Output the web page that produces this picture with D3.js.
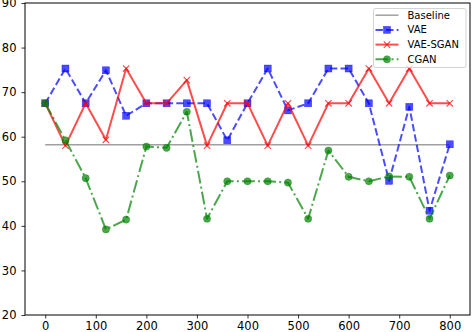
<!DOCTYPE html>
<html>
<head>
<meta charset="utf-8">
<script src="https://cdn.jsdelivr.net/npm/d3@7"></script>
<style>
  body { margin: 0; background: #fff; }
  svg { display: block; font-family: "DejaVu Sans", sans-serif; }
</style>
</head>
<body>
<svg id="chart" width="472" height="332"></svg>
<script>
// Data
const steps = [0, 40, 80, 120, 160, 200, 240, 280, 320, 360, 400, 440, 480, 520, 560, 600, 640, 680, 720, 760, 800];
const baseline = 58.2;
const vae = [67.5, 75.3, 67.5, 74.9, 64.7, 67.5, 67.5, 67.5, 67.5, 59.2, 67.5, 75.3, 65.9, 67.5, 75.3, 75.3, 67.5, 50.1, 66.7, 43.4, 58.3];
const vaeSgan = [67.5, 58.0, 67.5, 59.3, 75.3, 67.5, 67.5, 72.7, 58.0, 67.5, 67.5, 58.0, 67.5, 58.0, 67.5, 67.5, 75.3, 67.5, 75.3, 67.5, 67.5];
const cgan = [67.5, 59.2, 50.7, 39.2, 41.4, 57.8, 57.5, 65.6, 41.6, 50.0, 50.0, 50.0, 49.7, 41.6, 56.9, 51.0, 50.0, 51.1, 51.0, 41.6, 51.3];
const xTicks = [0, 100, 200, 300, 400, 500, 600, 700, 800];
const yTicks = [20, 30, 40, 50, 60, 70, 80, 90];

const svg = d3.select("#chart");
const margin = { left: 25, right: 2, top: 3, bottom: 17 };
const W = 472, H = 332;

const x = d3.scaleLinear().domain([-40, 840]).range([margin.left, W - margin.right]);
const y = d3.scaleLinear().domain([20, 90]).range([H - margin.bottom, margin.top]);

// Axes
const xAxis = svg.append("g")
  .attr("transform", `translate(0,${H - margin.bottom})`)
  .call(d3.axisBottom(x).tickValues(xTicks).tickSize(3.5).tickPadding(3).tickFormat(d3.format("d")));
const yAxis = svg.append("g")
  .attr("transform", `translate(${margin.left},0)`)
  .call(d3.axisLeft(y).tickValues(yTicks).tickSize(3.5).tickPadding(5).tickFormat(d3.format("d")));
[xAxis, yAxis].forEach(a => {
  a.select(".domain").remove();
  a.selectAll("text").attr("font-size", "11.5px").attr("fill", "#000").attr("font-family", "DejaVu Sans");
  a.selectAll("line").attr("stroke", "#000").attr("stroke-width", 0.8);
});

// Frame
svg.append("rect")
  .attr("x", margin.left).attr("y", margin.top)
  .attr("width", W - margin.right - margin.left)
  .attr("height", H - margin.bottom - margin.top)
  .attr("fill", "none").attr("stroke", "#000").attr("stroke-width", 1);

const plot = svg.append("g");
const line = d3.line().x(d => x(d[0])).y(d => y(d[1]));

const series = [
  { name: "Baseline", values: steps.map(s => [s, baseline]), color: "#a0a0a0", dash: null, marker: null, width: 1.5 },
  { name: "VAE", values: steps.map((s, i) => [s, vae[i]]), color: "rgba(0,0,255,0.7)", dash: "7.4,3.2", marker: "square", width: 2 },
  { name: "VAE-SGAN", values: steps.map((s, i) => [s, vaeSgan[i]]), color: "rgba(255,0,0,0.7)", dash: null, marker: "x", width: 2 },
  { name: "CGAN", values: steps.map((s, i) => [s, cgan[i]]), color: "rgba(0,128,0,0.7)", dash: "12.8,3.2,2,3.2", marker: "circle", width: 2 },
];

function drawMarker(g, type, cx, cy, color) {
  if (type === "square") {
    g.append("rect").attr("x", cx - 3.5).attr("y", cy - 3.5).attr("width", 7).attr("height", 7)
      .attr("fill", color).attr("stroke", color).attr("stroke-width", 0.5);
  } else if (type === "circle") {
    g.append("circle").attr("cx", cx).attr("cy", cy).attr("r", 3.6)
      .attr("fill", color).attr("stroke", color).attr("stroke-width", 0.5);
  } else if (type === "x") {
    const s = 3.2;
    g.append("path").attr("d", `M${cx - s},${cy - s}L${cx + s},${cy + s}M${cx - s},${cy + s}L${cx + s},${cy - s}`)
      .attr("stroke", color).attr("stroke-width", 1.2).attr("fill", "none");
  }
}

series.forEach(s => {
  const g = plot.append("g");
  g.append("path").attr("d", line(s.values))
    .attr("fill", "none").attr("stroke", s.color).attr("stroke-width", s.width)
    .attr("stroke-dasharray", s.dash).attr("stroke-linejoin", "round");
  if (s.marker) s.values.forEach(d => drawMarker(g, s.marker, x(d[0]), y(d[1]), s.color));
});

// Legend
const lg = svg.append("g").attr("transform", "translate(373.5,8.5)");
lg.append("rect").attr("width", 92.5).attr("height", 59).attr("rx", 2)
  .attr("fill", "rgba(255,255,255,0.8)").attr("stroke", "#c8c8c8").attr("stroke-width", 0.8);
series.forEach((s, i) => {
  const cy = 6.7 + i * 14.7;
  const row = lg.append("g");
  row.append("line").attr("x1", 2).attr("x2", 25).attr("y1", cy).attr("y2", cy)
    .attr("stroke", s.color).attr("stroke-width", s.width).attr("stroke-dasharray", s.dash);
  if (s.marker) drawMarker(row, s.marker, 13.5, cy, s.color);
  row.append("text").attr("x", 34).attr("y", cy).attr("dy", "0.35em")
    .attr("font-size", "10px").attr("fill", "#000").text(s.name);
});
</script>
</body>
</html>
